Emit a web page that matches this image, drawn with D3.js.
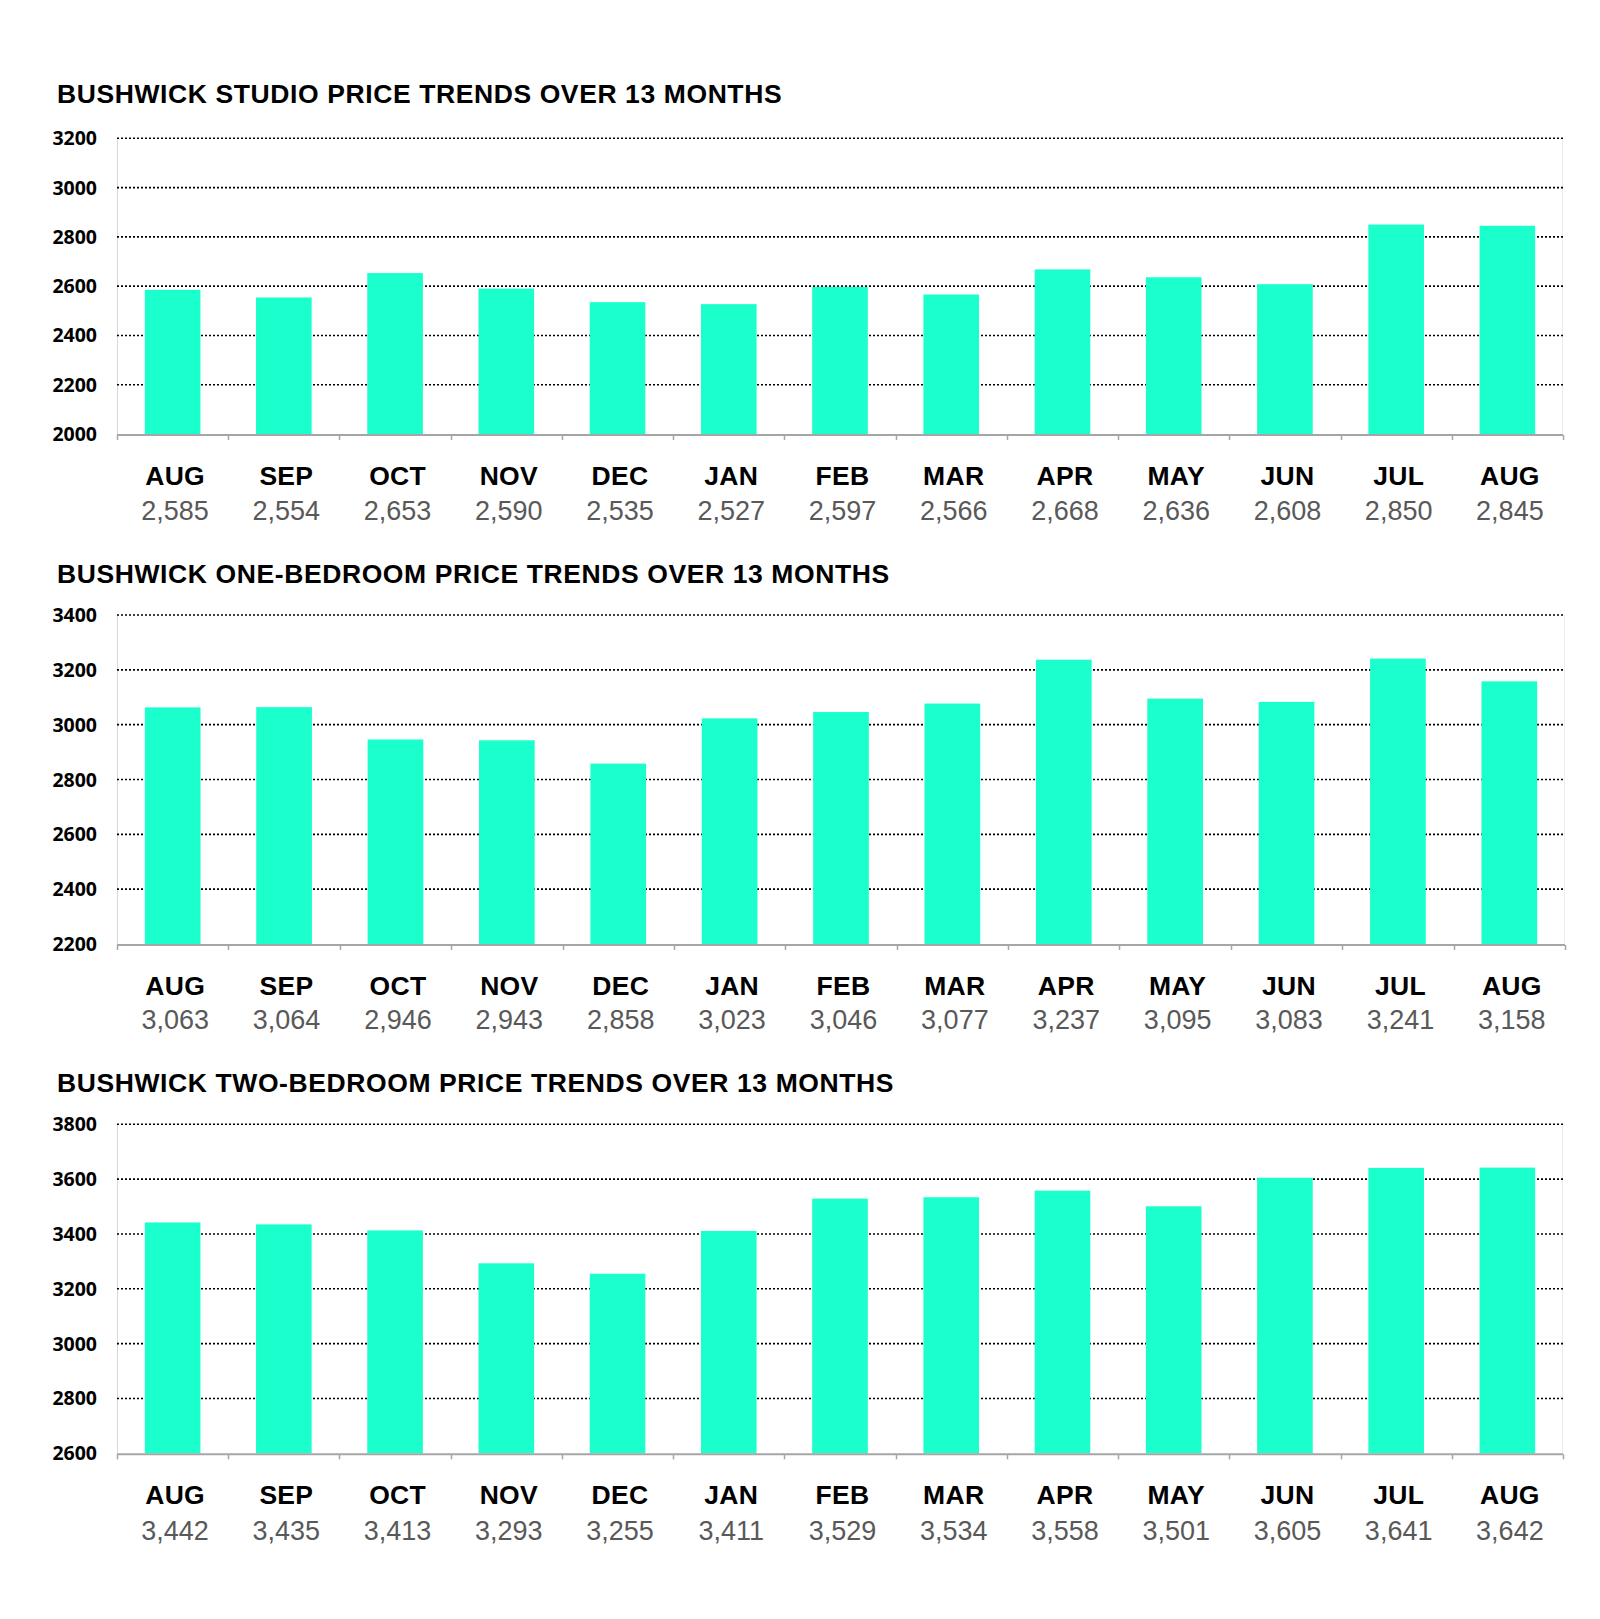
<!DOCTYPE html>
<html>
<head>
<meta charset="utf-8">
<script src="https://cdn.jsdelivr.net/npm/d3@7"></script>
<style>
  html, body { margin: 0; padding: 0; background: #fff; }
  svg { display: block; }
</style>
</head>
<body>
<script>
const months = ["AUG","SEP","OCT","NOV","DEC","JAN","FEB","MAR","APR","MAY","JUN","JUL","AUG"];
const studioValues = [2585,2554,2653,2590,2535,2527,2597,2566,2668,2636,2608,2850,2845];
const oneBedValues = [3063,3064,2946,2943,2858,3023,3046,3077,3237,3095,3083,3241,3158];
const twoBedValues = [3442,3435,3413,3293,3255,3411,3529,3534,3558,3501,3605,3641,3642];
const studioTicks = [2000,2200,2400,2600,2800,3000,3200];
const oneBedTicks = [2200,2400,2600,2800,3000,3200,3400];
const twoBedTicks = [2600,2800,3000,3200,3400,3600,3800];
const titles = [
  "BUSHWICK STUDIO PRICE TRENDS OVER 13 MONTHS",
  "BUSHWICK ONE-BEDROOM PRICE TRENDS OVER 13 MONTHS",
  "BUSHWICK TWO-BEDROOM PRICE TRENDS OVER 13 MONTHS"
];

const W = 1600, H = 1619;
const svg = d3.select("body").append("svg").attr("width", W).attr("height", H);

const panels = [
  { title: titles[0], values: studioValues, ticks: studioTicks, titleY: 102.7, top: 138.3, bottom: 434, left: 117, right: 1563, monthY: 485, valueY: 519.5 },
  { title: titles[1], values: oneBedValues, ticks: oneBedTicks, titleY: 582.7, top: 615, bottom: 944, left: 117, right: 1565, monthY: 995, valueY: 1028.5 },
  { title: titles[2], values: twoBedValues, ticks: twoBedTicks, titleY: 1091.7, top: 1124.3, bottom: 1453.3, left: 117, right: 1563, monthY: 1504, valueY: 1540 }
];

const fmt = d3.format(",");

panels.forEach((p, pi) => {
  const g = svg.append("g");
  const idx = d3.range(p.values.length);
  const x = d3.scaleBand().domain(idx).range([p.left, p.right]).paddingInner(0.5).paddingOuter(0.25);
  const y = d3.scaleLinear().domain([p.ticks[0], p.ticks[p.ticks.length - 1]]).range([p.bottom, p.top]);

  // title
  g.append("text")
    .attr("x", 57).attr("y", p.titleY)
    .attr("font-family", "'Liberation Sans', Arial, sans-serif")
    .attr("font-weight", "bold").attr("font-size", 26.5)
    .attr("letter-spacing", 0.6)
    .attr("fill", "#000")
    .text(p.title);

  // left axis line (light)
  g.append("line")
    .attr("x1", p.left + 0.5).attr("x2", p.left + 0.5)
    .attr("y1", p.top).attr("y2", p.bottom)
    .attr("stroke", "#d9d9d9").attr("stroke-width", 1);
  // right border (faint)
  g.append("line")
    .attr("x1", p.right - 0.5).attr("x2", p.right - 0.5)
    .attr("y1", p.top).attr("y2", p.bottom)
    .attr("stroke", "#ececec").attr("stroke-width", 1);

  // gridlines
  g.append("g").selectAll("line")
    .data(p.ticks.slice(1))
    .join("line")
    .attr("x1", p.left).attr("x2", p.right)
    .attr("y1", d => y(d)).attr("y2", d => y(d))
    .attr("stroke", "#000").attr("stroke-width", 1.6)
    .attr("stroke-dasharray", "2,2");

  // y tick labels
  g.append("g").selectAll("text")
    .data(p.ticks)
    .join("text")
    .attr("x", 97).attr("y", d => y(d))
    .attr("dy", "0.36em")
    .attr("text-anchor", "end")
    .attr("font-family", "'Open Sans', sans-serif")
    .attr("font-weight", "bold").attr("font-size", 19.5)
    .attr("fill", "#000")
    .text(d => d);

  // bars
  g.append("g").selectAll("rect")
    .data(p.values)
    .join("rect")
    .attr("x", (d, i) => x(i))
    .attr("width", x.bandwidth())
    .attr("y", d => y(d))
    .attr("height", d => p.bottom - y(d))
    .attr("fill", "#1affcb");

  // bottom axis line
  g.append("line")
    .attr("x1", p.left).attr("x2", p.right)
    .attr("y1", p.bottom + 1).attr("y2", p.bottom + 1)
    .attr("stroke", "#a6a6a6").attr("stroke-width", 2);

  // tick marks at category boundaries
  const bounds = idx.map(i => x(i) - x.step() * 0.25).concat([p.right]);
  g.append("g").selectAll("line")
    .data(bounds)
    .join("line")
    .attr("x1", d => Math.round(d) + 0.5).attr("x2", d => Math.round(d) + 0.5)
    .attr("y1", p.bottom + 1).attr("y2", p.bottom + 6)
    .attr("stroke", "#a6a6a6").attr("stroke-width", 1.5);

  // month labels
  g.append("g").selectAll("text")
    .data(months)
    .join("text")
    .attr("x", (d, i) => x(i) + x.bandwidth() / 2 + 2.5)
    .attr("y", p.monthY)
    .attr("text-anchor", "middle")
    .attr("font-family", "'Liberation Sans', Arial, sans-serif")
    .attr("font-weight", "bold").attr("font-size", 26.5)
    .attr("letter-spacing", 0.3)
    .attr("fill", "#000")
    .text(d => d);

  // value labels
  g.append("g").selectAll("text")
    .data(p.values)
    .join("text")
    .attr("x", (d, i) => x(i) + x.bandwidth() / 2 + 2.5)
    .attr("y", p.valueY)
    .attr("text-anchor", "middle")
    .attr("font-family", "'Liberation Sans', Arial, sans-serif")
    .attr("font-size", 27)
    .attr("fill", "#595959")
    .text(d => fmt(d));
});
</script>
</body>
</html>
